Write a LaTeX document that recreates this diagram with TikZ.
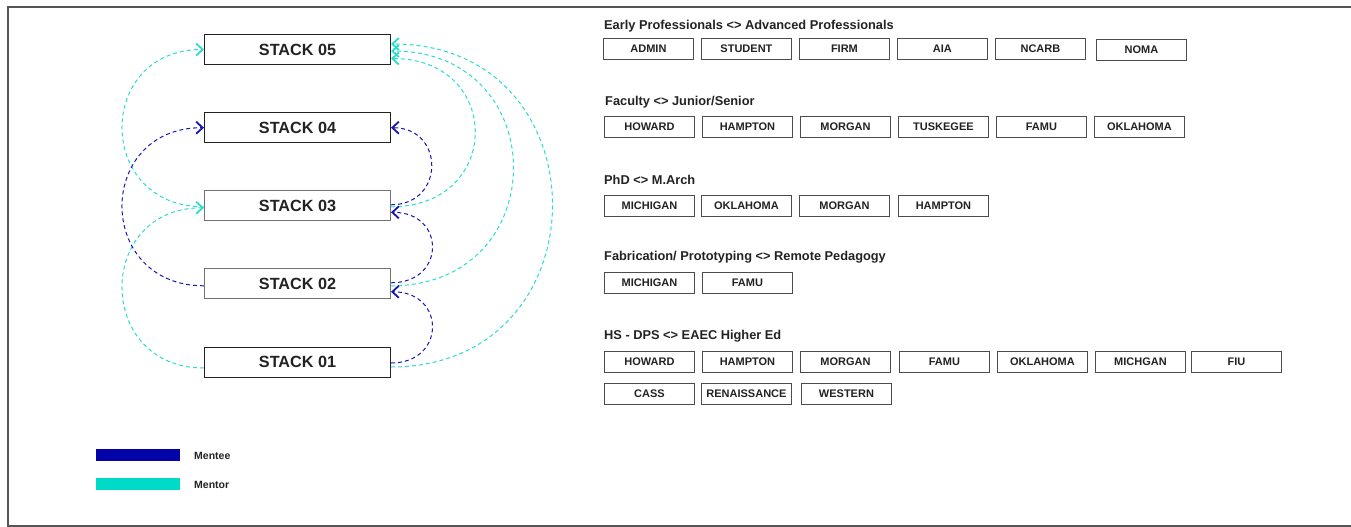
\documentclass[tikz,border=0pt]{standalone}
\usepackage{fontspec}
\setmainfont{Liberation Sans}
\usetikzlibrary{arrows.meta}

\definecolor{ink}{HTML}{222222}
\definecolor{frameC}{HTML}{555555}
\definecolor{menteeC}{HTML}{1616B2}
\definecolor{mentorC}{HTML}{2ADDCC}
\definecolor{menteeBar}{HTML}{0303A8}
\definecolor{mentorBar}{HTML}{00DBC8}

\begin{document}
\begin{tikzpicture}[x=1pt,y=-1pt,
  stackbox/.style={draw=#1, line width=1pt, minimum width=186pt, minimum height=30pt,
    inner sep=0pt, text=ink, font=\fontsize{16.2}{18}\selectfont\bfseries},
  tagbox/.style={draw=#1, line width=0.9pt, minimum width=90pt, minimum height=21pt,
    inner sep=0pt, anchor=west, text=ink, font=\fontsize{11}{12}\selectfont\bfseries},
  tagbox/.default={black!70},
  heading/.style={anchor=west, inner sep=0pt, text=ink, font=\fontsize{12.8}{14}\selectfont\bfseries},
  legtext/.style={anchor=west, inner sep=0pt, text=ink, font=\fontsize{10.5}{12}\selectfont\bfseries},
  link/.style={line width=1pt, dash pattern=on 4pt off 3pt},
  mentee/.style={link, draw=menteeC},
  mentor/.style={link, draw=mentorC},
  arr/.style={-{Straight Barb[length=6.5pt,width=12pt,line width=1.8pt]}},
]
\useasboundingbox (0,0) rectangle (1351,527);

% outer frame (open to the right)
\draw[frameC, line width=1.2pt] (1351,7) -- (8,7) -- (8,526) -- (1351,526);

% the five stacks
\node[stackbox=ink]      (s05) at (297.5,49.5)  {STACK 05};
\node[stackbox=ink]      (s04) at (297.5,127.7) {STACK 04};
\node[stackbox=black!55] (s03) at (297.5,205.8) {STACK 03};
\node[stackbox=black!55] (s02) at (297.5,283.8) {STACK 02};
\node[stackbox=ink]      (s01) at (297.5,362)   {STACK 01};

% left-hand links
\draw[mentor, arr] ([yshift=-1pt]s03.west) .. controls +(-109,0) and +(-109,0) .. (s05.west);
\draw[mentor, arr] ([yshift=-6pt]s01.west) .. controls +(-109,0) and +(-109,0) .. ([yshift=-2pt]s03.west);
\draw[mentee, arr] ([yshift=-2pt]s02.west) .. controls +(-109,0) and +(-109,0) .. (s04.west);

% right-hand links into STACK 05
\draw[mentor, arr] ([yshift=-1pt]s03.east) .. controls +(112,0) and +(112,0) .. ([yshift=-9pt]s05.east);
\draw[mentor, arr] ([yshift=-2pt]s02.east) .. controls +(163,0) and +(163,0) .. ([yshift=-1.5pt]s05.east);
\draw[mentor, arr] ([yshift=-5pt]s01.east) .. controls +(215,0) and +(215,0) .. ([yshift=5.5pt]s05.east);

% right-hand links between neighbours
\draw[mentee, arr] ([yshift=1pt]s03.east) .. controls +(54,0) and +(54,0) .. (s04.east);
\draw[mentee, arr] ([yshift=1pt]s02.east) .. controls +(55,0) and +(55,0) .. ([yshift=-6.5pt]s03.east);
\draw[mentee, arr] ([yshift=-1pt]s01.east) .. controls +(55,0) and +(55,0) .. ([yshift=-8pt]s02.east);

% group 1
\node[heading] (h1) at (604,26) {Early Professionals <> Advanced Professionals};
\node[tagbox] (g1a) at (603,48.5)  {ADMIN};
\node[tagbox] (g1b) at (701,48.5)  {STUDENT};
\node[tagbox] (g1c) at (799,48.5)  {FIRM};
\node[tagbox] (g1d) at (897,48.5)  {AIA};
\node[tagbox] (g1e) at (995,48.5)  {NCARB};
\node[tagbox] (g1f) at (1096,49.5) {\raisebox{-1.5pt}{NOMA}};

% group 2
\node[heading] (h2) at (605,102) {Faculty <> Junior/Senior};
\node[tagbox] (g2a) at (604,126.5)  {HOWARD};
\node[tagbox] (g2b) at (702,126.5)  {HAMPTON};
\node[tagbox] (g2c) at (800,126.5)  {MORGAN};
\node[tagbox] (g2d) at (898,126.5)  {TUSKEGEE};
\node[tagbox] (g2e) at (996,126.5)  {FAMU};
\node[tagbox] (g2f) at (1094,126.5) {OKLAHOMA};

% group 3
\node[heading] (h3) at (604,180) {PhD <> M.Arch};
\node[tagbox] (g3a) at (604,205.5) {MICHIGAN};
\node[tagbox] (g3b) at (701,205.5) {OKLAHOMA};
\node[tagbox] (g3c) at (799,205.5) {MORGAN};
\node[tagbox] (g3d) at (898,205.5) {HAMPTON};

% group 4
\node[heading] (h4) at (604,257) {Fabrication/ Prototyping <> Remote Pedagogy};
\node[tagbox] (g4a) at (604,282.5) {MICHIGAN};
\node[tagbox] (g4b) at (702,282.5) {FAMU};

% group 5
\node[heading] (h5) at (604,336) {HS - DPS <> EAEC Higher Ed};
\node[tagbox] (g5a) at (604,361.5)  {HOWARD};
\node[tagbox] (g5b) at (702,361.5)  {HAMPTON};
\node[tagbox] (g5c) at (800,361.5)  {MORGAN};
\node[tagbox] (g5d) at (899,361.5)  {FAMU};
\node[tagbox] (g5e) at (997,361.5)  {OKLAHOMA};
\node[tagbox] (g5f) at (1095,361.5) {MICHGAN};
\node[tagbox] (g5g) at (1191,361.5) {FIU};
\node[tagbox] (g5h) at (604,393.5)  {\raisebox{-1.5pt}{CASS}};
\node[tagbox] (g5i) at (701,393.5)  {RENAISSANCE};
\node[tagbox] (g5j) at (801,393.5)  {WESTERN};

% legend
\fill[menteeBar] (96,449) rectangle (180,461);
\fill[mentorBar] (96,478) rectangle (180,490);
\node[legtext] (lg1) at (194,456) {Mentee};
\node[legtext] (lg2) at (194,485) {Mentor};
\end{tikzpicture}
\end{document}
